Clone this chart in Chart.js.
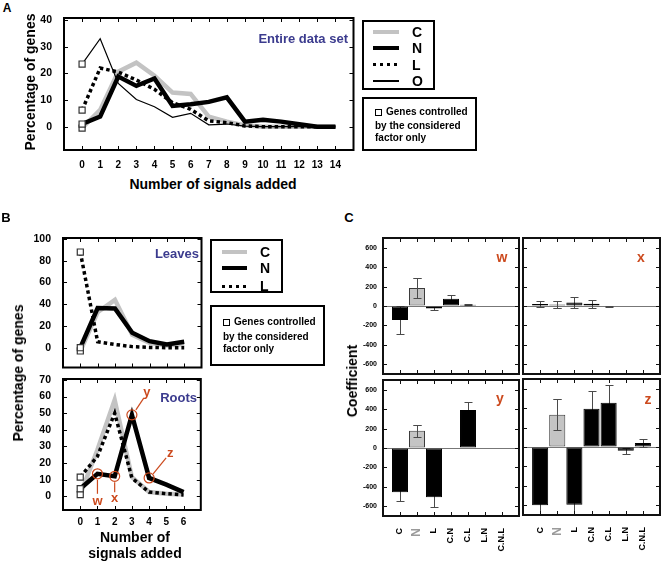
<!DOCTYPE html>
<html>
<head>
<meta charset="utf-8">
<script src="https://cdn.jsdelivr.net/npm/chart.js@4.4.1/dist/chart.umd.min.js"></script>
<style>
  body { margin: 0; width: 662px; height: 564px; position: relative; overflow: hidden; background: #fff;
         font-family: "Liberation Sans", Arial, sans-serif; font-weight: bold; color: #000; }
  canvas { position: absolute; }
  .t { position: absolute; white-space: nowrap; line-height: 1; }
  .box { position: absolute; border: 2px solid #000; box-sizing: border-box; }
  .smp { position: absolute; }
  .sq { position: absolute; width: 7px; height: 7px; border: 1.2px solid #000; box-sizing: border-box; }
</style>
</head>
<body>
<script>
/* ─── Data ───────────────────────────────────────────────────────────────── */
const SIGNALS_A = [0, 1, 2, 3, 4, 5, 6, 7, 8, 9, 10, 11, 12, 13, 14];
const ALL_C = [-0.5, 6.3, 20.6, 24, 19.1, 12.8, 12.3, 3.8, 1.9, 0.5, 0, 0, 0, 0, 0];
const ALL_N = [1, 3.8, 18.8, 15.3, 18.1, 7.8, 8.4, 9.3, 11, 1.9, 2.6, 1.9, 0.9, 0, 0];
const ALL_L = [6.2, 22, 20.5, 17.5, 14, 9, 6.5, 2.2, 1.5, 0.3, 0, 0, 0, 0, 0];
const ALL_O = [23.5, 33, 16.2, 10.2, 7.5, 3.5, 5, 0.7, 1, 0.2, 0, 0, 0, 0, 0];
const TICKS_A = [0, 10, 20, 30, 40];

const SIGNALS_B = [0, 1, 2, 3, 4, 5, 6];
const LEAF_C = [-3, 32.6, 44, 11.9, 4.5, 2, 3.5];
const LEAF_N = [0, 36.5, 36, 13.7, 6, 3, 5.5];
const LEAF_L = [88, 5.5, 3, 1, 0.3, 0, 0];
const TICKS_LEAF = [0, 20, 40, 60, 80, 100];
const ROOT_C = [1, 28, 58, 11.5, 2.5, 1.5, 1];
const ROOT_N = [4.5, 13.5, 12, 49, 11, 7, 2.5];
const ROOT_L = [11.5, 24, 50, 11, 2.5, 1.5, 0.8];
const TICKS_ROOT = [0, 10, 20, 30, 40, 50, 60, 70];
const ROOT_MARKS = ['w', 'x', 'y', 'z'];          // circled N points at 1..4 signals
const ROOT_MARK_AT = [1, 2, 3, 4];

const TERMS = ['C', 'N', 'L', 'C.N', 'C.L', 'L.N', 'C.N.L'];
const COEF_W = [-145, 185, -25, 75, 12, 0, 0];
const ERR_W  = [140, 100, 15, 35, 5, 0, 0];
const COEF_X = [20, 15, 35, 22, -5, 0, 0];
const ERR_X  = [30, 40, 55, 40, 5, 0, 0];
const COEF_Y = [-455, 178, -507, 0, 392, 0, 0];
const ERR_Y  = [95, 63, 100, 0, 85, 0, 0];
const COEF_Z = [-600, 331, -594, 393, 455, -38, 41];
const ERR_Z  = [140, 160, 150, 185, 185, 30, 40];
const TICKS_COEF = [-600, -400, -200, 0, 200, 400, 600];

/* ─── Defaults ───────────────────────────────────────────────────────────── */
Chart.defaults.font.family = '"Liberation Sans", Arial, sans-serif';
Chart.defaults.font.weight = 'bold';
Chart.defaults.color = '#000';
Chart.defaults.animation = false;
Chart.defaults.plugins.legend.display = false;
Chart.defaults.plugins.tooltip.enabled = false;

const ORANGE = '#cc4a1e';
const BLUE   = '#3b3b8e';
const GREY   = '#c3c3c3';

/* ─── Helpers ────────────────────────────────────────────────────────────── */
function text(str, x, y, o = {}) {
  const d = document.createElement('div');
  d.className = 't';
  d.textContent = str;
  const tx = o.align === 'left' ? '0' : o.align === 'right' ? '-100%' : '-50%';
  d.style.left = x + 'px';
  d.style.top = y + 'px';
  d.style.fontSize = (o.size || 14) + 'px';
  d.style.color = o.color || '#000';
  d.style.transform = `translate(${tx},-50%)` + (o.rotate ? ` rotate(${o.rotate}deg)` : '');
  document.body.appendChild(d);
}

function div(cls, l, t, w, h, css) {
  const d = document.createElement('div');
  d.className = cls;
  d.style.cssText = `left:${l}px;top:${t}px;width:${w}px;height:${h}px;` + (css || '');
  document.body.appendChild(d);
  return d;
}

// canvas placed so that the chart area lands exactly on the box
function makeCanvas(box, m) {
  const c = document.createElement('canvas');
  c.width  = box.r - box.l + m.l + m.r;
  c.height = box.b - box.t + m.t + m.b;
  c.style.left = (box.l - m.l) + 'px';
  c.style.top  = (box.t - m.t) + 'px';
  document.body.appendChild(c);
  return c;
}

const fixTicks = list => s => { s.ticks = list.map(value => ({ value })); };
// fixed axis size, and no extra room asked for overflowing labels
const fixSize = (key, size) => s => {
  s[key] = size;
  s.paddingTop = s.paddingBottom = s.paddingLeft = s.paddingRight = 0;
};

/* frame with inward tick marks on all four sides */
const framePlugin = {
  id: 'frame',
  afterDatasetsDraw(chart, args, opts) {
    const { ctx, chartArea: a, scales: { x, y } } = chart;
    const len = 4;
    ctx.save();
    ctx.strokeStyle = opts.color || '#000';
    ctx.lineWidth = 1;
    ctx.beginPath();
    x.ticks.forEach(t => {
      if (t.value < 0 || t.value > opts.xMax) return;
      const px = Math.round(x.getPixelForValue(t.value)) + 0.5;
      ctx.moveTo(px, a.top);    ctx.lineTo(px, a.top + len);
      ctx.moveTo(px, a.bottom); ctx.lineTo(px, a.bottom - len);
    });
    y.ticks.forEach(t => {
      const py = Math.round(y.getPixelForValue(t.value)) + 0.5;
      ctx.moveTo(a.left, py);  ctx.lineTo(a.left + len, py);
      ctx.moveTo(a.right, py); ctx.lineTo(a.right - len, py);
    });
    ctx.stroke();
    ctx.lineWidth = 2;
    ctx.strokeRect(a.left, a.top, a.right - a.left, a.bottom - a.top);
    ctx.restore();
  }
};

/* error bars: drawn under the bars, and again on top of the grey ones */
function drawErrors(chart, onlyGrey) {
  const { ctx, chartArea: a, scales: { y } } = chart;
  ctx.save();
  ctx.beginPath();
  ctx.rect(a.left, a.top, a.right - a.left, a.bottom - a.top);
  ctx.clip();
  ctx.strokeStyle = '#4a4a4a';
  ctx.lineWidth = 1;
  chart.data.datasets.forEach((ds, di) => {
    if (!ds.errors) return;
    chart.getDatasetMeta(di).data.forEach((bar, i) => {
      const e = ds.errors[i];
      if (!e || (onlyGrey && TERMS[i] !== 'N')) return;
      const v = ds.data[i].y;
      const top = Math.round(y.getPixelForValue(v + e)) + 0.5;
      const bot = Math.round(y.getPixelForValue(v - e)) + 0.5;
      const cx = Math.round(bar.x) + 0.5;
      ctx.beginPath();
      ctx.moveTo(cx, top); ctx.lineTo(cx, bot);
      ctx.moveTo(cx - 4, top); ctx.lineTo(cx + 4, top);
      ctx.moveTo(cx - 4, bot); ctx.lineTo(cx + 4, bot);
      ctx.stroke();
    });
  });
  ctx.restore();
}
const errorPlugin = {
  id: 'errorBars',
  beforeDatasetsDraw(chart) { drawErrors(chart, false); },
  afterDatasetsDraw(chart) { drawErrors(chart, true); }
};

/* leader lines and letters for the circled root points */
const NOTE_OFFSETS = [
  { x1: 0, y1: 6,  x2: 0,  y2: 20,  lx: 0,  ly: 28 },
  { x1: 0, y1: 6,  x2: 0,  y2: 16,  lx: 0,  ly: 22 },
  { x1: 4, y1: -5, x2: 12, y2: -17, lx: 15, ly: -22 },
  { x1: 4, y1: -4, x2: 17, y2: -20, lx: 21, ly: -25 }
];
const notePlugin = {
  id: 'notes',
  afterDraw(chart) {
    const { ctx } = chart;
    const pts = chart.getDatasetMeta(0).data;
    ctx.save();
    ctx.strokeStyle = ORANGE;
    ctx.fillStyle = ORANGE;
    ctx.lineWidth = 1.2;
    ctx.font = 'bold 13px "Liberation Sans", Arial, sans-serif';
    ctx.textAlign = 'center';
    ctx.textBaseline = 'middle';
    pts.forEach((p, i) => {
      const o = NOTE_OFFSETS[i];
      ctx.beginPath();
      ctx.moveTo(p.x + o.x1, p.y + o.y1);
      ctx.lineTo(p.x + o.x2, p.y + o.y2);
      ctx.stroke();
      ctx.fillText(ROOT_MARKS[i], p.x + o.lx, p.y + o.ly);
    });
    ctx.restore();
  }
};

const pts = (xs, vals) => xs.map((x, i) => ({ x, y: vals[i] }));

function lineSet(xs, vals, kind) {
  const st = {
    C: { borderColor: GREY, borderWidth: 4.5 },
    N: { borderColor: '#000', borderWidth: 4.5 },
    L: { borderColor: '#000', borderWidth: 3.5, borderDash: [3.5, 3] },
    O: { borderColor: '#000', borderWidth: 1.2 }
  }[kind];
  return Object.assign({
    data: pts(xs, vals),
    tension: 0,
    borderJoinStyle: 'miter',
    pointStyle: 'rect',
    pointRadius: c => (c.dataIndex === 0 ? 4.3 : 0),
    pointBackgroundColor: '#fff',
    pointBorderColor: '#333',
    pointBorderWidth: 1.2
  }, st);
}

function lineChart(box, m, datasets, o) {
  const canvas = makeCanvas(box, m);
  const xs = o.xs;
  return new Chart(canvas, {
    type: 'line',
    data: { datasets },
    options: {
      responsive: false,
      layout: { padding: { top: m.t, right: m.r, left: 0, bottom: 0 } },
      plugins: { frame: { xMax: xs[xs.length - 1] } },
      scales: {
        x: {
          type: 'linear', min: -1, max: xs[xs.length - 1] + 1,
          afterBuildTicks: fixTicks(xs),
          afterFit: fixSize('height', m.b),
          grid: { display: false }, border: { display: false },
          ticks: { display: o.xLabels, autoSkip: false, maxRotation: 0, padding: o.xPad || 0, font: { size: 10 } }
        },
        y: {
          type: 'linear', min: o.yMin, max: o.yMax,
          afterBuildTicks: fixTicks(o.yTicks),
          afterFit: fixSize('width', m.l),
          grid: { display: false }, border: { display: false },
          ticks: { padding: 4, font: { size: 10.5 } }
        }
      }
    },
    plugins: o.plugins || [framePlugin]
  });
}

function coefChart(box, m, vals, errs, o) {
  const canvas = makeCanvas(box, m);
  return new Chart(canvas, {
    type: 'bar',
    data: {
      datasets: [{
        data: pts(TERMS.map((_, i) => i), vals),
        errors: errs,
        backgroundColor: TERMS.map(t => (t === 'N' ? '#c4c4c4' : '#000')),
        borderColor: TERMS.map(t => (t === 'N' ? '#3a3a3a' : '#000')),
        borderWidth: 1,
        borderSkipped: false,
        categoryPercentage: 1,
        barPercentage: 0.94
      }]
    },
    options: {
      responsive: false,
      layout: { padding: { top: m.t, right: m.r, left: 0, bottom: 0 } },
      plugins: { frame: { xMax: TERMS.length - 1, color: '#111' } },
      scales: {
        x: {
          type: 'linear', offset: false, min: -1, max: TERMS.length,
          afterBuildTicks: fixTicks(TERMS.map((_, i) => i)),
          afterFit: fixSize('height', m.b),
          grid: { display: false }, border: { display: false },
          ticks: {
            display: o.xLabels, autoSkip: false,
            minRotation: 90, maxRotation: 90, padding: 4,
            color: c => (c.tick && c.tick.value === 1 ? '#9a9a9a' : '#000'),
            font: c => ({ size: c.tick && c.tick.value === 1 ? 12 : 9, weight: 'bold' }),
            callback: v => TERMS[v] || ''
          }
        },
        y: {
          type: 'linear', min: -700, max: 700,
          afterBuildTicks: fixTicks(TICKS_COEF),
          afterFit: fixSize('width', m.l),
          grid: { drawTicks: false, lineWidth: 1,
                  color: c => (c.tick && c.tick.value === 0 ? '#777' : 'rgba(0,0,0,0)') },
          border: { display: false },
          ticks: { display: o.yLabels, padding: 6, font: { size: 7 } }
        }
      }
    },
    plugins: [framePlugin, errorPlugin]
  });
}

/* ─── Panel A ────────────────────────────────────────────────────────────── */
lineChart({ l: 64, t: 18, r: 355, b: 150 }, { l: 40, t: 8, r: 4, b: 22 }, [
  lineSet(SIGNALS_A, ALL_L, 'L'),
  lineSet(SIGNALS_A, ALL_O, 'O'),
  lineSet(SIGNALS_A, ALL_N, 'N'),
  lineSet(SIGNALS_A, ALL_C, 'C')
], { xs: SIGNALS_A, xLabels: true, xPad: 1, yMin: -8.74, yMax: 40.76, yTicks: TICKS_A });

text('A', 7, 8, { size: 12 });
text('Entire data set', 348, 38, { size: 13, color: BLUE, align: 'right' });
text('Percentage of genes', 30, 82, { size: 14, rotate: -90 });
text('Number of signals added', 213, 184, { size: 14 });

/* ─── Panel B ────────────────────────────────────────────────────────────── */
lineChart({ l: 63, t: 238, r: 203, b: 369 }, { l: 40, t: 8, r: 4, b: 4 }, [
  lineSet(SIGNALS_B, LEAF_L, 'L'),
  lineSet(SIGNALS_B, LEAF_N, 'N'),
  lineSet(SIGNALS_B, LEAF_C, 'C')
], { xs: SIGNALS_B, xLabels: false, yMin: -18.2, yMax: 100.9, yTicks: TICKS_LEAF });

lineChart({ l: 63, t: 379, r: 203, b: 510 }, { l: 40, t: 8, r: 4, b: 20 }, [
  {
    data: ROOT_MARK_AT.map(i => ({ x: SIGNALS_B[i], y: ROOT_N[i] })),
    showLine: false,
    pointStyle: 'circle',
    pointRadius: 5,
    pointBorderColor: ORANGE,
    pointBorderWidth: 1.2,
    pointBackgroundColor: 'rgba(0,0,0,0)'
  },
  lineSet(SIGNALS_B, ROOT_L, 'L'),
  lineSet(SIGNALS_B, ROOT_N, 'N'),
  lineSet(SIGNALS_B, ROOT_C, 'C')
], { xs: SIGNALS_B, xLabels: true, xPad: -2, yMin: -8.3, yMax: 70.6, yTicks: TICKS_ROOT,
     plugins: [framePlugin, notePlugin] });

text('B', 6, 217, { size: 13 });
text('Leaves', 199, 253, { size: 13, color: BLUE, align: 'right' });
text('Roots', 197, 397, { size: 13, color: BLUE, align: 'right' });
text('Percentage of genes', 18, 373, { size: 14, rotate: -90 });
text('Number of', 135, 537, { size: 14 });
text('signals added', 135, 553, { size: 14 });

/* ─── Legends ────────────────────────────────────────────────────────────── */
function legendRows(l, t, r, b, rows, x1, x2, lx) {
  div('box', l, t, r - l, b - t);
  rows.forEach(([kind, y]) => {
    const css = {
      C: `background:${GREY};`,
      N: 'background:#000;',
      L: 'background:repeating-linear-gradient(to right,#000 0 3px,transparent 3px 7px);',
      O: 'background:#000;'
    }[kind];
    const h = { C: 4.5, N: 4.5, L: 3, O: 1.2 }[kind];
    div('smp', x1, y - h / 2, x2 - x1, h, css);
    text(kind, lx, y, { size: 14, align: 'left' });
  });
}
function noteBox(l, t, r, b, x, ys) {
  div('box', l, t, r - l, b - t);
  div('sq', x, ys[0] - 3.5, 7, 7);
  text('Genes controlled', x + 11, ys[0], { size: 10, align: 'left' });
  text('by the considered', x, ys[1], { size: 10, align: 'left' });
  text('factor only', x, ys[2], { size: 10, align: 'left' });
}

legendRows(362, 20, 435, 90, [['C', 32], ['N', 48], ['L', 64.5], ['O', 81]], 373, 399, 412);
noteBox(362, 97, 477, 151, 375, [112, 126, 138]);
legendRows(210, 239, 283, 293, [['C', 252], ['N', 268], ['L', 286]], 222, 247, 260);
noteBox(210, 305, 325, 366, 223, [322, 337, 349]);

/* ─── Panel C ────────────────────────────────────────────────────────────── */
coefChart({ l: 383, t: 238, r: 519, b: 374 }, { l: 30, t: 8, r: 2, b: 3 }, COEF_W, ERR_W, { xLabels: false, yLabels: true });
coefChart({ l: 523, t: 238, r: 660, b: 374 }, { l: 2, t: 8, r: 2, b: 3 }, COEF_X, ERR_X, { xLabels: false, yLabels: false });
coefChart({ l: 383, t: 380, r: 519, b: 516 }, { l: 30, t: 3, r: 2, b: 44 }, COEF_Y, ERR_Y, { xLabels: true, yLabels: true });
coefChart({ l: 523, t: 379, r: 660, b: 515 }, { l: 2, t: 3, r: 2, b: 44 }, COEF_Z, ERR_Z, { xLabels: true, yLabels: false });

text('C', 349, 217, { size: 13 });
text('Coefficient', 352, 381, { size: 14, rotate: -90 });
text('w', 502, 257, { size: 14, color: ORANGE });
text('x', 641, 257, { size: 14, color: ORANGE });
text('y', 500, 398, { size: 14, color: ORANGE });
text('z', 648, 399, { size: 14, color: ORANGE });
</script>
</body>
</html>
